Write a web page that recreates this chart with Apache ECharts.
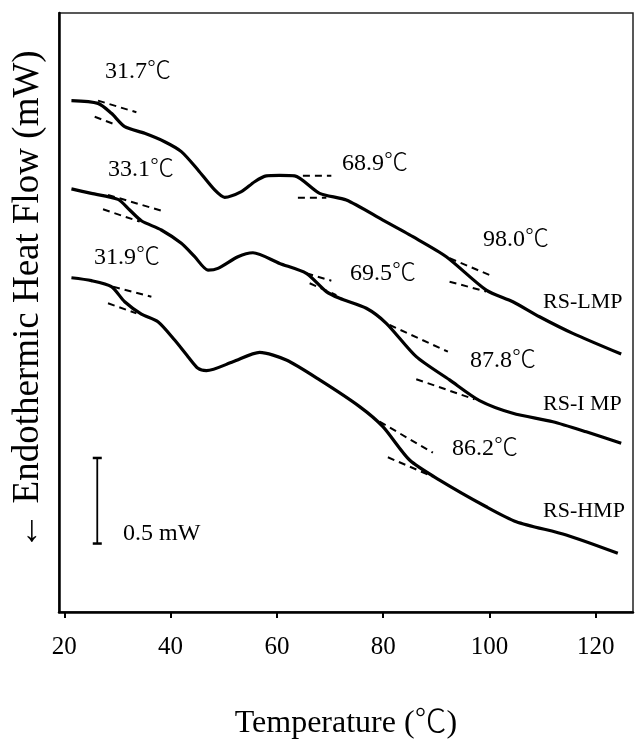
<!DOCTYPE html>
<html>
<head>
<meta charset="utf-8">
<script src="https://cdn.jsdelivr.net/npm/echarts@6/dist/echarts.min.js"></script>
<style>
  html, body { margin: 0; padding: 0; background: #fff; }
  #chart { width: 635px; height: 740px; }
</style>
</head>
<body>
<div id="chart"></div>
<script>
// DSC traces: temperature (°C) and heat flow (mW, arbitrary offset per trace)
const lmpTemp = [21.34, 26.34, 28.86, 31.36, 35.12, 38.88, 42.02, 45.15, 48.29, 50.17, 53.31, 55.81, 58.01, 60.5, 63.33, 68.04, 73.06, 79.94, 85.58, 91.87, 99.39, 104.39, 109.41, 115.67, 124.78];
const lmpFlow = [2.988, 2.972, 2.914, 2.836, 2.797, 2.748, 2.690, 2.583, 2.466, 2.423, 2.456, 2.514, 2.548, 2.551, 2.548, 2.446, 2.407, 2.290, 2.193, 2.076, 1.881, 1.813, 1.725, 1.628, 1.507];

const imtTemp = [21.34, 25.10, 30.10, 32.30, 34.50, 38.26, 42.02, 44.53, 47.03, 48.91, 52.67, 55.49, 60.51, 65.53, 69.30, 71.80, 76.82, 80.58, 86.22, 92.49, 98.13, 104.39, 111.92, 118.20, 124.78];
const imtFlow = [2.472, 2.446, 2.411, 2.349, 2.286, 2.232, 2.154, 2.076, 1.998, 2.008, 2.076, 2.099, 2.037, 1.979, 1.872, 1.833, 1.775, 1.687, 1.492, 1.356, 1.235, 1.161, 1.112, 1.053, 0.986];

const hmpTemp = [21.34, 25.10, 28.86, 31.36, 34.50, 37.62, 40.76, 43.27, 45.15, 46.73, 51.73, 56.75, 61.77, 68.04, 75.56, 79.94, 84.96, 90.61, 99.39, 105.03, 114.44, 124.14];
const hmpFlow = [1.953, 1.936, 1.901, 1.813, 1.741, 1.696, 1.589, 1.492, 1.424, 1.410, 1.462, 1.517, 1.472, 1.356, 1.200, 1.083, 0.888, 0.771, 0.615, 0.528, 0.450, 0.343];

const sampleNames = ['RS-LMP', 'RS-I MP', 'RS-HMP'];

// Onset temperatures (°C) of each transition
const onsetLmp = [31.7, 68.9, 98.0];
const onsetImp = [33.1, 69.5, 87.8];
const onsetHmp = [31.9, 86.2];

// Tangent construction lines: [T1, flow1, T2, flow2]
const tangentLines = [
  [26.34, 2.988, 33.56, 2.920], [25.72, 2.894, 29.80, 2.846],
  [64.89, 2.549, 70.24, 2.549], [63.95, 2.421, 69.30, 2.421],
  [92.49, 2.067, 100.01, 1.969], [92.49, 1.930, 99.39, 1.872],
  [28.22, 2.437, 38.26, 2.345], [27.28, 2.353, 34.18, 2.281],
  [65.53, 1.979, 70.24, 1.936], [66.16, 1.921, 71.18, 1.852],
  [81.20, 1.677, 92.17, 1.521], [86.22, 1.360, 97.19, 1.243],
  [29.16, 1.901, 36.38, 1.842], [28.22, 1.804, 33.56, 1.745],
  [79.32, 1.112, 89.35, 0.931], [80.88, 0.904, 89.35, 0.791]
];

// Scale bar: 0.5 mW
const scaleBarTemp = 26.2;
const scaleBarFrom = 0.40;
const scaleBarSpan = 0.5;

const xTicks = [20, 40, 60, 80, 100, 120];

const SERIF = '"Liberation Serif", "Times New Roman", "Noto Sans CJK SC", serif';

function zip(xs, ys) { return xs.map((x, i) => [x, ys[i]]); }

const traceStyle = { color: '#000', width: 3.2 };

const series = [
  { name: sampleNames[0], data: zip(lmpTemp, lmpFlow) },
  { name: sampleNames[1], data: zip(imtTemp, imtFlow) },
  { name: sampleNames[2], data: zip(hmpTemp, hmpFlow) }
].map(s => ({
  type: 'line', name: s.name, data: s.data, showSymbol: false,
  smooth: 0.25, lineStyle: traceStyle, silent: true, z: 3
}));

tangentLines.forEach(t => {
  series.push({
    type: 'line', data: [[t[0], t[1]], [t[2], t[3]]], showSymbol: false,
    lineStyle: { color: '#000', width: 2, type: [7, 5] }, silent: true, z: 2
  });
});

series.push({
  type: 'line',
  data: [[scaleBarTemp, scaleBarFrom], [scaleBarTemp, scaleBarFrom + scaleBarSpan]],
  showSymbol: true, symbol: 'rect', symbolSize: [9, 2.5],
  itemStyle: { color: '#000' },
  lineStyle: { color: '#000', width: 1.8 }, silent: true
});

const chart = echarts.init(document.getElementById('chart'), null, { renderer: 'canvas' });

const grid = { left: 59, right: 2, top: 13, bottom: 128 };

function label(text, x, y, size) {
  return {
    type: 'text', x: x, y: y, silent: true,
    style: { text: text, font: '300 ' + size + 'px ' + SERIF, fill: '#000', align: 'left', verticalAlign: 'middle' }
  };
}

const fmt = v => v.toFixed(1) + '℃';

chart.setOption({
  animation: false,
  backgroundColor: '#fff',
  grid: Object.assign({ show: true, borderColor: '#222', borderWidth: 1.5, outerBoundsMode: 'none', containLabel: false }, grid),
  xAxis: {
    type: 'value', min: 19, max: 127,
    axisLine: { show: true, onZero: false, lineStyle: { color: '#000', width: 2.5 } },
    axisTick: { show: true, customValues: xTicks, length: 6, inside: false, lineStyle: { color: '#000', width: 2 } },
    axisLabel: { customValues: xTicks, color: '#000', fontFamily: SERIF, fontSize: 25, margin: 23 },
    splitLine: { show: false },
    name: 'Temperature (℃)', nameLocation: 'middle', nameGap: 96,
    nameTextStyle: { color: '#000', fontFamily: SERIF, fontSize: 32, fontWeight: 300 }
  },
  yAxis: {
    type: 'value', min: 0, max: 3.5,
    axisLine: { show: true, lineStyle: { color: '#000', width: 2.5 } },
    axisTick: { show: false }, axisLabel: { show: false }, splitLine: { show: false }
  },
  series: series,
  graphic: [
    {
      type: 'text', x: 28, y: 300, rotation: Math.PI / 2, silent: true,
      style: { text: '← Endothermic Heat Flow (mW)', font: '37px ' + SERIF, fill: '#000', align: 'center', verticalAlign: 'middle' }
    },
    label(fmt(onsetLmp[0]), 105, 72, 24),
    label(fmt(onsetImp[0]), 108, 170, 24),
    label(fmt(onsetHmp[0]), 94, 258, 24),
    label(fmt(onsetLmp[1]), 342, 164, 24),
    label(fmt(onsetLmp[2]), 483, 240, 24),
    label(fmt(onsetImp[1]), 350, 274, 24),
    label(fmt(onsetImp[2]), 470, 361, 24),
    label(fmt(onsetHmp[1]), 452, 449, 24),
    label(sampleNames[0], 543, 302, 22),
    label(sampleNames[1], 543, 404, 22),
    label(sampleNames[2], 543, 511, 22),
    label(scaleBarSpan + ' mW', 123, 534, 24)
  ]
});
</script>
</body>
</html>
